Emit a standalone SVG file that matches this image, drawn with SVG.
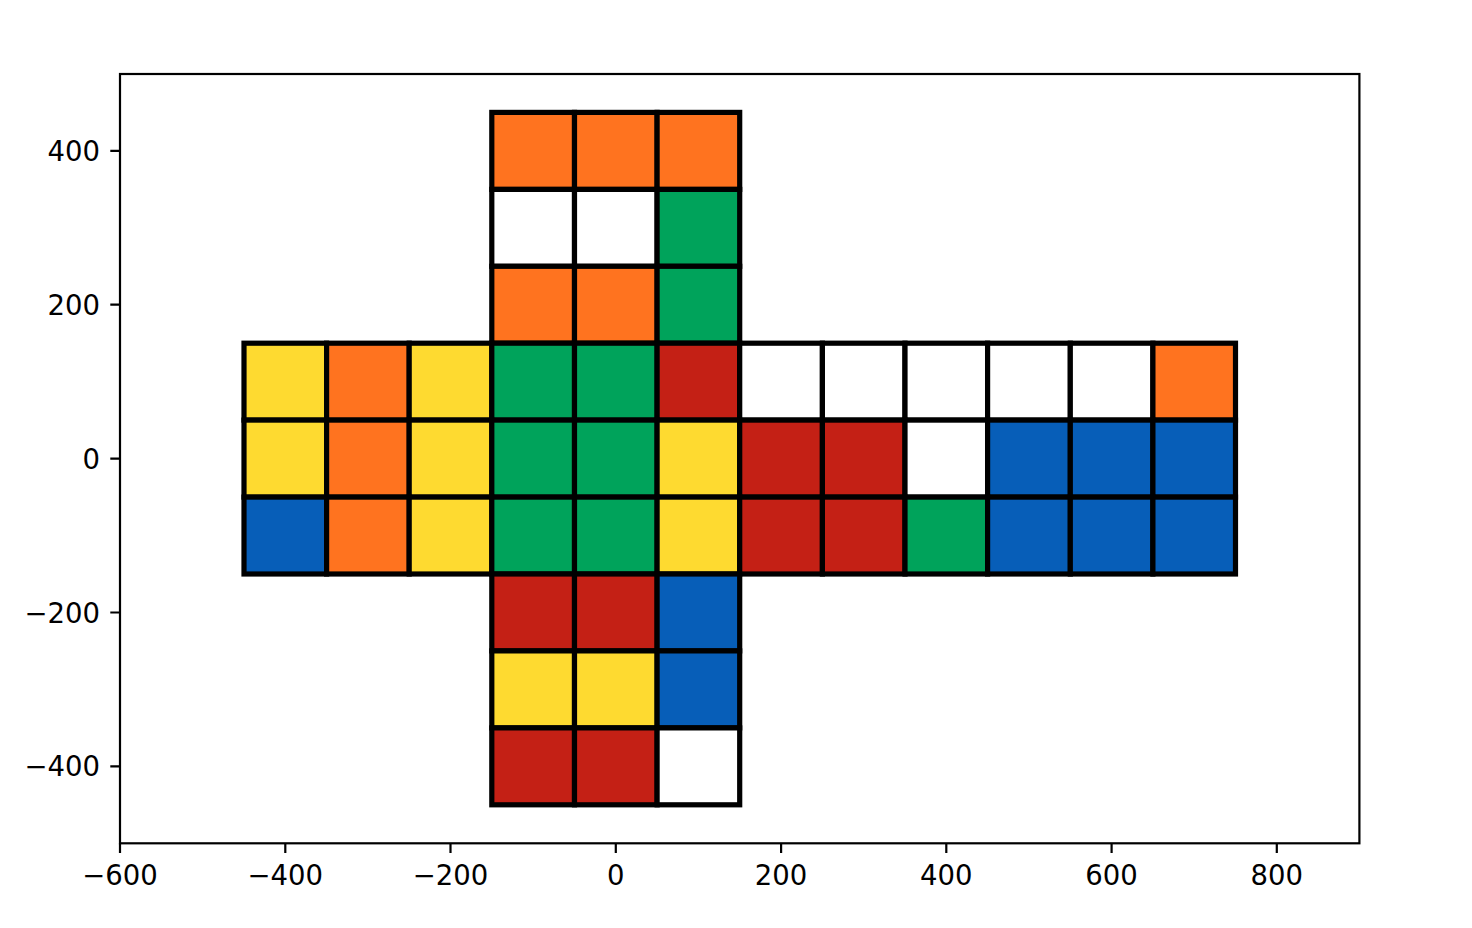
<svg xmlns="http://www.w3.org/2000/svg" width="1472" height="928" viewBox="0 0 1472 928">
<style>
.c{stroke:#000;stroke-width:5.2;stroke-linejoin:miter}
.o{fill:#FF731F}.w{fill:#FFFFFF}.g{fill:#00A35B}.r{fill:#C42015}.y{fill:#FEDA30}.b{fill:#075EB8}
.t{font-family:"DejaVu Sans",sans-serif;font-size:27.5px;fill:#000}
.tk{stroke:#000;stroke-width:2.2}
</style>
<rect width="1472" height="928" fill="#fff"/>
<g id="cells">
<g id="top-face">
<rect class="c o" x="491.8" y="112.4" width="82.7" height="77"/>
<rect class="c o" x="574.5" y="112.4" width="82.6" height="77"/>
<rect class="c o" x="657.1" y="112.4" width="82.6" height="77"/>
<rect class="c w" x="491.8" y="189.4" width="82.7" height="76.9"/>
<rect class="c w" x="574.5" y="189.4" width="82.6" height="76.9"/>
<rect class="c g" x="657.1" y="189.4" width="82.6" height="76.9"/>
<rect class="c o" x="491.8" y="266.3" width="82.7" height="76.9"/>
<rect class="c o" x="574.5" y="266.3" width="82.6" height="76.9"/>
<rect class="c g" x="657.1" y="266.3" width="82.6" height="76.9"/>
</g>
<g id="row-1">
<rect class="c y" x="244" y="343.2" width="82.6" height="76.9"/>
<rect class="c o" x="326.6" y="343.2" width="82.6" height="76.9"/>
<rect class="c y" x="409.2" y="343.2" width="82.6" height="76.9"/>
<rect class="c g" x="491.8" y="343.2" width="82.7" height="76.9"/>
<rect class="c g" x="574.5" y="343.2" width="82.6" height="76.9"/>
<rect class="c r" x="657.1" y="343.2" width="82.6" height="76.9"/>
<rect class="c w" x="739.7" y="343.2" width="82.7" height="76.9"/>
<rect class="c w" x="822.4" y="343.2" width="82.6" height="76.9"/>
<rect class="c w" x="905" y="343.2" width="82.6" height="76.9"/>
<rect class="c w" x="987.6" y="343.2" width="82.7" height="76.9"/>
<rect class="c w" x="1070.3" y="343.2" width="82.6" height="76.9"/>
<rect class="c o" x="1152.9" y="343.2" width="82.6" height="76.9"/>
</g>
<g id="row-2">
<rect class="c y" x="244" y="420.1" width="82.6" height="77"/>
<rect class="c o" x="326.6" y="420.1" width="82.6" height="77"/>
<rect class="c y" x="409.2" y="420.1" width="82.6" height="77"/>
<rect class="c g" x="491.8" y="420.1" width="82.7" height="77"/>
<rect class="c g" x="574.5" y="420.1" width="82.6" height="77"/>
<rect class="c y" x="657.1" y="420.1" width="82.6" height="77"/>
<rect class="c r" x="739.7" y="420.1" width="82.7" height="77"/>
<rect class="c r" x="822.4" y="420.1" width="82.6" height="77"/>
<rect class="c w" x="905" y="420.1" width="82.6" height="77"/>
<rect class="c b" x="987.6" y="420.1" width="82.7" height="77"/>
<rect class="c b" x="1070.3" y="420.1" width="82.6" height="77"/>
<rect class="c b" x="1152.9" y="420.1" width="82.6" height="77"/>
</g>
<g id="row-3">
<rect class="c b" x="244" y="497.1" width="82.6" height="76.9"/>
<rect class="c o" x="326.6" y="497.1" width="82.6" height="76.9"/>
<rect class="c y" x="409.2" y="497.1" width="82.6" height="76.9"/>
<rect class="c g" x="491.8" y="497.1" width="82.7" height="76.9"/>
<rect class="c g" x="574.5" y="497.1" width="82.6" height="76.9"/>
<rect class="c y" x="657.1" y="497.1" width="82.6" height="76.9"/>
<rect class="c r" x="739.7" y="497.1" width="82.7" height="76.9"/>
<rect class="c r" x="822.4" y="497.1" width="82.6" height="76.9"/>
<rect class="c g" x="905" y="497.1" width="82.6" height="76.9"/>
<rect class="c b" x="987.6" y="497.1" width="82.7" height="76.9"/>
<rect class="c b" x="1070.3" y="497.1" width="82.6" height="76.9"/>
<rect class="c b" x="1152.9" y="497.1" width="82.6" height="76.9"/>
</g>
<g id="bottom-face">
<rect class="c r" x="491.8" y="574" width="82.7" height="76.9"/>
<rect class="c r" x="574.5" y="574" width="82.6" height="76.9"/>
<rect class="c b" x="657.1" y="574" width="82.6" height="76.9"/>
<rect class="c y" x="491.8" y="650.9" width="82.7" height="77"/>
<rect class="c y" x="574.5" y="650.9" width="82.6" height="77"/>
<rect class="c b" x="657.1" y="650.9" width="82.6" height="77"/>
<rect class="c r" x="491.8" y="727.9" width="82.7" height="76.9"/>
<rect class="c r" x="574.5" y="727.9" width="82.6" height="76.9"/>
<rect class="c w" x="657.1" y="727.9" width="82.6" height="76.9"/>
</g>
</g>
<g id="axes">
<rect x="120" y="74" width="1239.4" height="769.3" fill="none" stroke="#000" stroke-width="2.2"/>
<g id="x-ticks">
<path class="tk" d="M120 843.3v9.7M285.3 843.3v9.7M450.5 843.3v9.7M615.8 843.3v9.7M781.1 843.3v9.7M946.3 843.3v9.7M1111.6 843.3v9.7M1276.8 843.3v9.7"/>
<g class="t" text-anchor="middle">
<text x="120" y="884.5">−600</text>
<text x="285.3" y="884.5">−400</text>
<text x="450.5" y="884.5">−200</text>
<text x="615.8" y="884.5">0</text>
<text x="781.1" y="884.5">200</text>
<text x="946.3" y="884.5">400</text>
<text x="1111.6" y="884.5">600</text>
<text x="1276.8" y="884.5">800</text>
</g>
</g>
<g id="y-ticks">
<path class="tk" d="M120 150.9h-9.7M120 304.7h-9.7M120 458.6h-9.7M120 612.5h-9.7M120 766.3h-9.7"/>
<g class="t" text-anchor="end">
<text x="100" y="161">400</text>
<text x="100" y="314.8">200</text>
<text x="100" y="468.7">0</text>
<text x="100" y="622.6">−200</text>
<text x="100" y="776.4">−400</text>
</g>
</g>
</g>
</svg>
